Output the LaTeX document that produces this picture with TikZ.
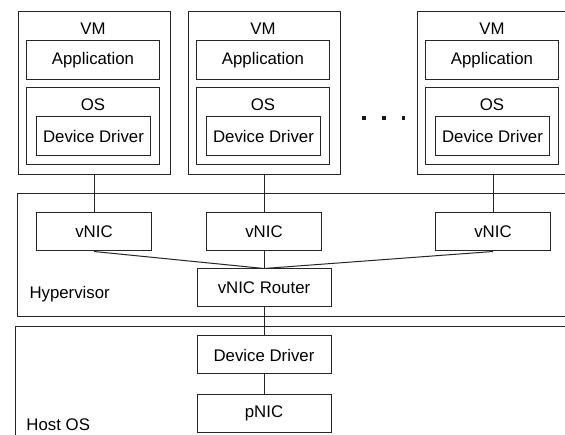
\documentclass[tikz,border=0pt]{standalone}
\usepackage{fontspec}
\setmainfont{Liberation Sans}
\begin{document}
\begin{tikzpicture}[x=1pt,y=-1pt,line width=1pt,
  vmbox/.style={draw=black!85,rectangle,inner sep=0pt,minimum width=152pt,minimum height=163pt},
  osbox/.style={draw=black!85,rectangle,inner sep=0pt,minimum width=133pt,minimum height=77pt},
  appbox/.style={draw=black!85,rectangle,inner sep=0pt,minimum width=133pt,minimum height=38.5pt},
  ddbox/.style={draw=black!85,rectangle,inner sep=0pt,minimum width=114pt,minimum height=39pt},
  nicbox/.style={draw=black!85,rectangle,inner sep=0pt,minimum width=115pt,minimum height=38pt},
  hostbox/.style={draw=black!85,rectangle,inner sep=0pt,minimum width=134pt,minimum height=38pt},
  lbl/.style={inner sep=0pt},
  dotsq/.style={fill=black!90,rectangle,inner sep=0pt,minimum size=3.6pt},
  conn/.style={draw=black!85},
  font=\fontsize{16.8}{19}\selectfont]
\useasboundingbox (0,0) rectangle (565,435);
\clip (0,0) rectangle (565,435);
% hypervisor and host OS
\draw[black!85] (17,194) rectangle (590,317);
\draw[black!85] (15,327) rectangle (590,450);
\node[lbl,anchor=base west] (hyp) at (29,298.5) {Hypervisor};
\node[lbl,anchor=base west] (host) at (26,430.5) {Host OS};
% VMs
\foreach \i/\cx in {1/94,2/264,3/493}{
  \node[vmbox] (vm\i) at (\cx,93.5) {};
  \node[lbl,anchor=base] (vml\i) at (\cx-1,35) {VM};
  \node[appbox] (app\i) at (\cx-1,60.25) {Application};
  \node[osbox] (os\i) at (\cx-1,126.5) {};
  \node[lbl,anchor=base] (osl\i) at (\cx-1,111) {OS};
  \node[ddbox] (dd\i) at (\cx-0.5,136.5) {Device Driver};
  \node[nicbox] (vnic\i) at (\cx,232) {vNIC};
  \draw[conn] (vm\i.south) -- (vnic\i.north);
}
\node[dotsq] (dot1) at (364,118) {};
\node[dotsq] (dot2) at (384,118) {};
\node[dotsq] (dot3) at (403.5,118) {};
\node[hostbox] (router) at (264,288) {vNIC Router};
\draw[conn] (vnic1.south) -- (router.north);
\draw[conn] (vnic2.south) -- (router.north);
\draw[conn] (vnic3.south) -- (router.north);
\node[hostbox] (hdd) at (264,355) {Device Driver};
\node[hostbox] (pnic) at (264,413.5) {pNIC};
\draw[conn] (router.south) -- (hdd.north);
\draw[conn] (hdd.south) -- (pnic.north);
\end{tikzpicture}
\end{document}
